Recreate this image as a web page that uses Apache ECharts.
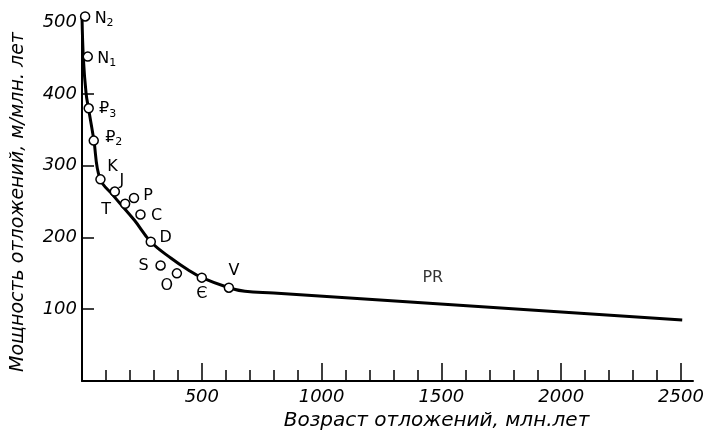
<!DOCTYPE html>
<html>
<head>
<meta charset="utf-8">
<script src="https://cdn.jsdelivr.net/npm/echarts@6.0.0/dist/echarts.min.js"></script>
<style>
    html, body { margin: 0; padding: 0; background: #fff; }
    #container { width: 703px; height: 433px; }
</style>
</head>
<body>
<div id="container"></div>
<script type="text/javascript">
    // сглаженная кривая (возраст, мощность)
    var curveX = [0, 6, 17, 27, 49, 75, 129, 219, 287, 372, 442, 500, 613, 680, 800, 2505];
    var curveY = [508, 448, 401, 380, 337, 282, 259, 224, 194, 171, 155, 144, 130, 125, 122.5, 85];

    // точки по системам
    var pointNames = ['N2', 'N1', 'P3', 'P2', 'K', 'J', 'T', 'P', 'C', 'D', 'S', 'O', 'Є', 'V'];
    var pointX = [13, 24, 28, 49, 77, 137, 180, 217, 244, 287, 328, 396, 500, 613];
    var pointY = [508, 452, 380, 335, 281, 264, 247, 255, 232, 194, 161, 150, 144, 130];

    var prLabel = 'PR';
    var prX = 1464;
    var prY = 143.5;

    var xTickLabels = [500, 1000, 1500, 2000, 2500];
    var yTickLabels = [100, 200, 300, 400, 500];
    var yTicks = [100, 200, 300, 400];

    // подписи: смещение центра текста от кружка, px
    var labelOffsets = {
        'N2': [19, 2], 'N1': [19, 2], 'P3': [19, 1], 'P2': [20, -3], 'K': [12, -12],
        'J': [7, -11], 'T': [-19, 6], 'P': [14, -2], 'C': [16, 1], 'D': [15, -4],
        'S': [-17, 0], 'O': [-10, 12], 'Є': [0, 16], 'V': [5, -17]
    };
    var labelText = {
        'N2': '{a|N}{s|2}', 'N1': '{a|N}{s|1}', 'P3': '{a|₽}{s|3}', 'P2': '{a|₽}{s|2}'
    };

    var minorTicks = [];
    for (var t = 100; t < 2500; t += 100) {
        if (t % 500 !== 0) minorTicks.push(t);
    }

    var axisFont = {
        fontFamily: 'DejaVu Sans',
        fontStyle: 'italic',
        fontSize: 18,
        color: '#000'
    };
    var richStyle = {
        a: { fontFamily: 'DejaVu Sans', fontSize: 16, color: '#000', lineHeight: 20 },
        s: { fontFamily: 'DejaVu Sans', fontSize: 11, color: '#000', lineHeight: 11, verticalAlign: 'bottom' }
    };

    var curveData = [];
    for (var i = 0; i < curveX.length; i++) {
        curveData.push([curveX[i], curveY[i]]);
    }

    var pointData = [];
    for (var j = 0; j < pointNames.length; j++) {
        var nm = pointNames[j];
        pointData.push({
            name: nm,
            value: [pointX[j], pointY[j]],
            label: {
                offset: labelOffsets[nm],
                formatter: labelText[nm] ? labelText[nm] : '{a|' + nm + '}'
            }
        });
    }

    function plain(v) {
        return String(v);
    }

    var dom = document.getElementById("container");
    var myChart = echarts.init(dom, null, { renderer: 'canvas' });
    var option = {
        backgroundColor: '#fff',
        animation: false,
        grid: [
            { left: 82, right: 10, top: 15, bottom: 52, outerBoundsMode: 'none' },
            { left: 82, right: 10, top: 15, bottom: 52, outerBoundsMode: 'none' }
        ],
        xAxis: [{
            type: 'value',
            gridIndex: 0,
            min: 0,
            max: 2550,
            name: 'Возраст отложений, млн.лет',
            nameLocation: 'middle',
            nameGap: 29,
            nameTextStyle: {
                fontFamily: 'DejaVu Sans',
                fontStyle: 'italic',
                fontSize: 20,
                color: '#000',
                padding: [0, 0, 0, 98]
            },
            axisLine: { lineStyle: { color: '#000', width: 2 } },
            axisTick: { inside: true, length: 18, customValues: xTickLabels, lineStyle: { color: '#000', width: 1.5 } },
            axisLabel: {
                customValues: xTickLabels,
                formatter: plain,
                margin: 7,
                fontFamily: axisFont.fontFamily,
                fontStyle: axisFont.fontStyle,
                fontSize: axisFont.fontSize,
                color: axisFont.color
            },
            splitLine: { show: false }
        }, {
            type: 'value',
            gridIndex: 1,
            min: 0,
            max: 2550,
            axisLine: { show: false },
            axisTick: { inside: true, length: 11, customValues: minorTicks, lineStyle: { color: '#000', width: 1.5 } },
            axisLabel: { show: false },
            splitLine: { show: false }
        }],
        yAxis: [{
            type: 'value',
            gridIndex: 0,
            min: 0,
            max: 510,
            name: 'Мощность отложений, м/млн. лет',
            nameLocation: 'middle',
            nameGap: 54,
            nameTextStyle: {
                fontFamily: 'DejaVu Sans',
                fontStyle: 'italic',
                fontSize: 19,
                color: '#000',
                padding: [0, 8, 0, 0]
            },
            axisLine: { show: true, lineStyle: { color: '#000', width: 2 } },
            axisTick: { show: true, inside: true, length: 12, customValues: yTicks, lineStyle: { color: '#000', width: 1.5 } },
            axisLabel: {
                customValues: yTickLabels,
                formatter: plain,
                margin: 5,
                fontFamily: axisFont.fontFamily,
                fontStyle: axisFont.fontStyle,
                fontSize: axisFont.fontSize,
                color: axisFont.color
            },
            splitLine: { show: false }
        }, {
            type: 'value',
            gridIndex: 1,
            min: 0,
            max: 510,
            show: false
        }],
        series: [{
            type: 'line',
            xAxisIndex: 0,
            yAxisIndex: 0,
            data: curveData,
            showSymbol: false,
            smooth: 0.4,
            lineStyle: { color: '#000', width: 3 },
            z: 2
        }, {
            type: 'scatter',
            xAxisIndex: 0,
            yAxisIndex: 0,
            data: pointData,
            symbol: 'circle',
            symbolSize: 9,
            itemStyle: { color: '#fff', borderColor: '#000', borderWidth: 1.5, opacity: 1 },
            label: { show: true, position: 'inside', rich: richStyle },
            emphasis: { disabled: true },
            z: 3
        }, {
            type: 'scatter',
            xAxisIndex: 0,
            yAxisIndex: 0,
            data: [{ name: prLabel, value: [prX, prY] }],
            symbolSize: 0,
            label: {
                show: true,
                position: 'inside',
                formatter: '{b}',
                fontFamily: 'DejaVu Sans',
                fontSize: 16,
                color: '#000'
            },
            z: 3
        }]
    };

    if (option && typeof option === "object") {
        myChart.setOption(option, true);
    }
</script>
</body>
</html>
